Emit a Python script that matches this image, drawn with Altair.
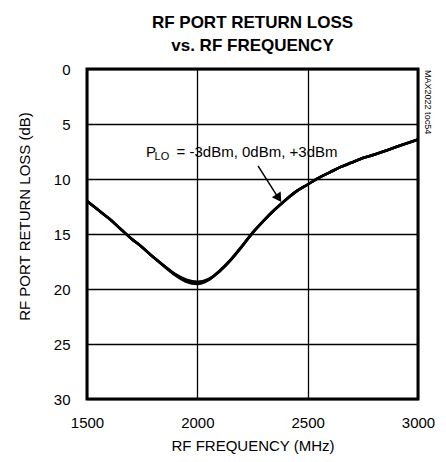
import altair as alt
import pandas as pd

freq = [1500, 1550, 1600, 1650, 1700, 1750, 1800, 1850, 1900, 1950, 2000, 2050, 2100,
        2150, 2200, 2250, 2300, 2350, 2400, 2450, 2500, 2550, 2600, 2650, 2700, 2750,
        2800, 2850, 2900, 2950, 3000]
rl_m3 = [12.0, 12.8, 13.6, 14.5, 15.4, 16.2, 17.1, 17.9, 18.7, 19.25, 19.45, 19.15, 18.4,
         17.4, 16.2, 14.9, 13.8, 12.8, 11.9, 11.1, 10.5, 9.9, 9.4, 8.9, 8.5, 8.1,
         7.8, 7.45, 7.1, 6.75, 6.4]
rl_0 = [12.0, 12.8, 13.6, 14.5, 15.4, 16.2, 17.1, 17.9, 18.65, 19.15, 19.35, 19.1, 18.4,
        17.4, 16.2, 14.9, 13.8, 12.8, 11.9, 11.1, 10.5, 9.9, 9.4, 8.9, 8.5, 8.1,
        7.8, 7.45, 7.1, 6.75, 6.4]
rl_p3 = [12.0, 12.8, 13.6, 14.5, 15.4, 16.2, 17.1, 17.95, 18.75, 19.35, 19.55, 19.2, 18.35,
         17.35, 16.15, 14.9, 13.8, 12.8, 11.9, 11.1, 10.5, 9.9, 9.4, 8.9, 8.5, 8.1,
         7.8, 7.45, 7.1, 6.75, 6.4]
series = ["-3dBm", "0dBm", "+3dBm"]

x_ticks = [1500, 2000, 2500, 3000]
y_ticks = [0, 5, 10, 15, 20, 25, 30]

FONT = "Liberation Sans"

rows = []
for name, vals in zip(series, [rl_m3, rl_0, rl_p3]):
    for f, v in zip(freq, vals):
        rows.append({"freq": f, "rl": v, "plo": name})
df = pd.DataFrame(rows)

xs = alt.Scale(domain=[1500, 3000], nice=False)
ys = alt.Scale(domain=[0, 30], reverse=True, nice=False)

lines = alt.Chart(df).mark_line(color="black", strokeWidth=2.6, interpolate="monotone").encode(
    x=alt.X("freq:Q", scale=xs, title="RF FREQUENCY (MHz)",
            axis=alt.Axis(values=x_ticks, format="d", grid=True, ticks=False, domain=False,
                          labelFlush=False, labelPadding=16, titlePadding=8)),
    y=alt.Y("rl:Q", scale=ys, title="RF PORT RETURN LOSS (dB)",
            axis=alt.Axis(values=y_ticks, grid=True, ticks=False, domain=False,
                          labelFlush=False, labelPadding=17, titleX=-55, titleY=147)),
    detail="plo:N",
)

# annotation
ann_p = pd.DataFrame({"freq": [1767], "rl": [8.0], "t": ["P"]})
ann_lo = pd.DataFrame({"freq": [1806], "rl": [8.3], "t": ["LO"]})
ann_rest = pd.DataFrame({"freq": [1906], "rl": [8.0], "t": ["= -3dBm, 0dBm, +3dBm"]})

tp = alt.Chart(ann_p).mark_text(align="left", baseline="alphabetic", font=FONT, fontSize=15).encode(
    x=alt.X("freq:Q", scale=xs), y=alt.Y("rl:Q", scale=ys), text="t:N")
tlo = alt.Chart(ann_lo).mark_text(align="left", baseline="alphabetic", font=FONT, fontSize=11).encode(
    x=alt.X("freq:Q", scale=xs), y=alt.Y("rl:Q", scale=ys), text="t:N")
trest = alt.Chart(ann_rest).mark_text(align="left", baseline="alphabetic", font=FONT, fontSize=15).encode(
    x=alt.X("freq:Q", scale=xs), y=alt.Y("rl:Q", scale=ys), text="t:N")

arrow_df = pd.DataFrame({"freq": [2275], "rl": [8.8], "freq2": [2370], "rl2": [11.8]})
arrow_line = alt.Chart(arrow_df).mark_rule(color="black", strokeWidth=1.5).encode(
    x=alt.X("freq:Q", scale=xs), y=alt.Y("rl:Q", scale=ys), x2="freq2:Q", y2="rl2:Q")
head_df = pd.DataFrame({"freq": [2369], "rl": [11.75]})
arrow_head = alt.Chart(head_df).mark_point(shape="triangle-down", filled=True, color="black",
                                            size=110, angle=327, opacity=1).encode(
    x=alt.X("freq:Q", scale=xs), y=alt.Y("rl:Q", scale=ys))

toc_df = pd.DataFrame({"freq": [3045], "rl": [0.1], "t": ["MAX2022 toc54"]})
toc = alt.Chart(toc_df).mark_text(align="left", baseline="middle", angle=90, font=FONT,
                                   fontSize=9).encode(
    x=alt.X("freq:Q", scale=xs), y=alt.Y("rl:Q", scale=ys), text="t:N")

chart = alt.layer(lines, tp, tlo, trest, arrow_line, arrow_head, toc).properties(
    width=331, height=330,
    background="white",
    title=alt.TitleParams(["RF PORT RETURN LOSS", "vs. RF FREQUENCY"], font=FONT,
                          fontSize=17, fontWeight="bold", anchor="middle", offset=7,
                          lineHeight=23, color="black"),
    autosize=alt.AutoSizeParams(type="none"),
    padding={"left": 79, "top": 61, "right": 20, "bottom": 55},
).configure_view(stroke="black", strokeWidth=3).configure_axis(
    gridColor="black", gridWidth=1.3, gridOpacity=1,
    labelFont=FONT, labelFontSize=15, labelColor="black",
    titleFont=FONT, titleFontSize=15, titleFontWeight="normal", titleColor="black",
)

chart.save("out.html", embed_options={"renderer": "svg", "actions": False})
